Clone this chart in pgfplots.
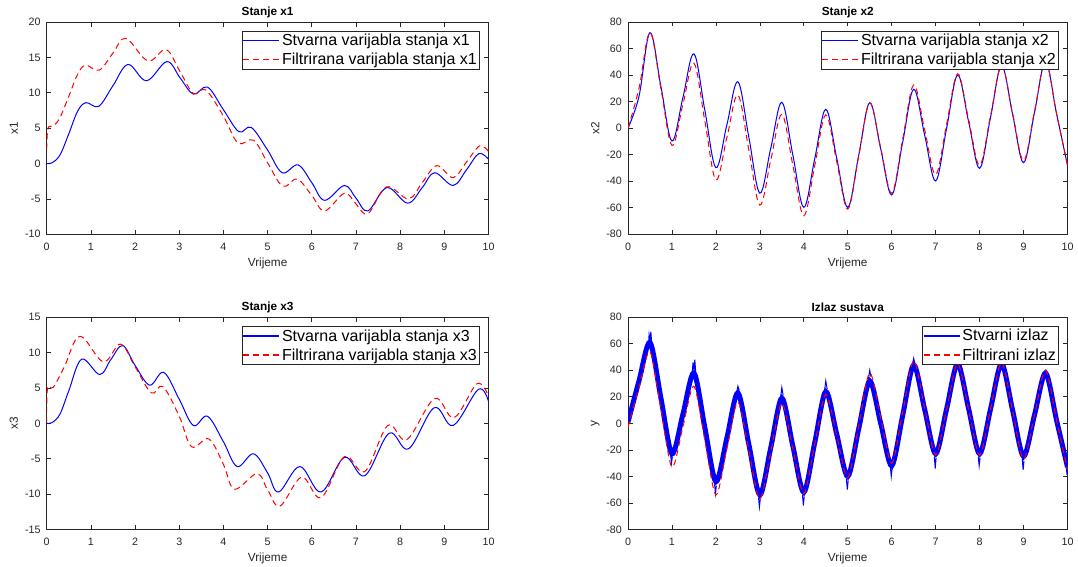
\documentclass[border=0pt]{standalone}
\usepackage{fontspec}
\setmainfont{Liberation Sans}
\usepackage{pgfplots}
\pgfplotsset{compat=1.18}
\definecolor{axgray}{RGB}{38,38,38}
\pgfplotsset{
 mat/.style={
  scale only axis, height=212.3pt,
  xmin=0,xmax=10, xtick={0,1,...,10},
  tick align=inside, tick pos=both, major tick length=4.5pt,
  axis line style={axgray, line width=0.7pt},
  every tick/.style={axgray, line width=0.7pt},
  tick label style={font=\fontsize{10.7}{12}\selectfont, text=axgray},
  /pgf/number format/assume math mode=true,
  yticklabel style={inner sep=0pt, xshift=-6pt, anchor=east},
  xticklabel style={inner sep=0pt, yshift=-8.5pt, anchor=north},
  every axis x label/.style={at={(axis description cs:0.5,-0.1366)}, anchor=center, font=\fontsize{11.8}{13}\selectfont, text=axgray},
  every axis y label/.style={at={(axis description cs:-0.0747,0.5)}, rotate=90, anchor=center, font=\fontsize{11.8}{13}\selectfont, text=axgray},
  every axis title/.style={at={(axis description cs:0.5,1.046)}, anchor=center, font=\bfseries\fontsize{11.8}{13}\selectfont, text=black},
  legend style={at={(1,1)}, anchor=north east, xshift=-8.8pt, yshift=-8.8pt, draw=axgray, line width=0.8pt, fill=white,
    font=\fontsize{16}{19}\selectfont, inner xsep=0.5pt, inner ysep=0pt, row sep=0pt,
    nodes={inner xsep=2pt, inner ysep=3pt}},
  legend cell align=left,
  xlabel={Vrijeme},
  unbounded coords=jump,
 },
 sline/.style={draw=blue, line width=1pt, smooth, tension=0.6,
   legend image code/.code={\draw[draw=blue, line width=1.3pt, solid] (0pt,0pt) -- (36pt,0pt);}},
 fline/.style={draw=red, line width=1pt, smooth, tension=0.6, dash pattern=on 6pt off 4pt,
   legend image code/.code={\draw[draw=red, line width=1.2pt, dash pattern=on 6pt off 4pt] (0pt,0pt) -- (36pt,0pt);}},
}
\begin{document}
\begin{tikzpicture}
\path[use as bounding box] (0pt,0pt) rectangle (1078pt,566pt);
% ---------------- x1
\begin{axis}[mat, width=441.8pt, at={(46.7pt,331.7pt)}, anchor=south west,
  ymin=-10, ymax=20, ytick={-10,-5,...,20}, ylabel={x1}, title={Stanje x1}]
\addplot[sline] coordinates {(0,0) (0.12,0.1) (0.3,1.2) (0.5,4.2) (0.7,7.4) (0.89,8.6) (1.18,8.1) (1.5,11) (1.84,14.0) (2.26,11.7) (2.72,14.4) (3.02,12.1) (3.32,9.8) (3.64,10.8) (4.0,7.6) (4.35,4.5) (4.63,5.1) (5.0,1.9) (5.33,-1.3) (5.69,-0.2) (6.0,-2.7) (6.29,-5.2) (6.74,-3.1) (7.0,-4.9) (7.27,-6.7) (7.70,-3.4) (8.17,-5.6) (8.5,-3.4) (8.78,-1.3) (9.2,-3.1) (9.5,-0.9) (9.78,1.4) (10,0.6)};
\addlegendentry{Stvarna varijabla stanja x1}
\addplot[fline] coordinates {(0,2) (0.03,5) (0.15,5.3) (0.3,6.5) (0.5,9.5) (0.7,12.6) (0.88,13.9) (1.19,13.2) (1.5,15.6) (1.79,17.7) (2.29,14.5) (2.70,16.1) (3.0,13.2) (3.32,9.9) (3.6,10.4) (4.0,6.7) (4.33,2.9) (4.68,3.3) (5.0,0.1) (5.34,-3.2) (5.67,-2.2) (6.0,-4.5) (6.29,-6.7) (6.74,-4.2) (7.0,-5.7) (7.27,-7.1) (7.69,-3.3) (8.19,-5.0) (8.5,-2.7) (8.83,-0.3) (9.2,-2.0) (9.5,0.2) (9.80,2.5) (10,1.7)};
\addlegendentry{Filtrirana varijabla stanja x1}
\end{axis}
% ---------------- x2
\begin{axis}[mat, width=439.5pt, at={(628pt,331.7pt)}, anchor=south west,
  ymin=-80, ymax=80, ytick={-80,-60,...,80}, ylabel={x2}, title={Stanje x2}]
\addplot[sline] coordinates {(0,0) (0.25,24) (0.5,72) (0.75,31.2) (1,-9.7) (1.25,23.2) (1.5,56) (1.75,13.1) (2,-29.8) (2.25,2.6) (2.5,35) (2.75,-7) (3,-49) (3.25,-14.8) (3.5,19.5) (3.75,-20.1) (4,-59.7) (4.25,-22.8) (4.5,14.2) (4.75,-22.8) (5,-59.7) (5.25,-20.3) (5.5,19.2) (5.75,-15.6) (6,-50.3) (6.25,-10.5) (6.5,29.3) (6.75,-5.3) (7,-39.8) (7.25,0.1) (7.5,40) (7.75,4.9) (8,-30.3) (8.25,8.4) (8.5,47) (8.75,10.5) (9,-26) (9.25,12) (9.5,50) (9.75,11) (10,-28)};
\addlegendentry{Stvarna varijabla stanja x2}
\addplot[fline] coordinates {(0,0) (0.25,30) (0.5,72) (0.75,29.5) (1,-13) (1.25,18) (1.5,49) (1.75,5) (2,-39) (2.25,-7) (2.5,25) (2.75,-16.5) (3,-58) (3.25,-23.8) (3.5,10.4) (3.75,-27.8) (4,-66) (4.25,-28) (4.5,10) (4.75,-25.5) (5,-61) (5.25,-21) (5.5,19) (5.75,-15) (6,-49) (6.25,-8.3) (6.5,32.5) (6.75,-1.3) (7,-35) (7.25,3) (7.5,41) (7.75,6.5) (8,-28) (8.25,9.5) (8.5,47) (8.75,11.3) (9,-24.5) (9.25,12.8) (9.5,50) (9.75,11) (10,-28)};
\addlegendentry{Filtrirana varijabla stanja x2}
\end{axis}
% ---------------- x3
\begin{axis}[mat, width=441.8pt, at={(46.7pt,36.5pt)}, anchor=south west,
  ymin=-15, ymax=15, ytick={-15,-10,...,15}, ylabel={x3}, title={Stanje x3}]
\addplot[sline] coordinates {(0,0) (0.12,0.1) (0.3,1.3) (0.5,4.6) (0.79,9.06) (1.2,6.9) (1.45,9) (1.72,11.0) (2.0,8.2) (2.33,5.4) (2.65,7.2) (3.0,3.4) (3.32,-0.3) (3.64,1.0) (4.0,-2.6) (4.31,-6.1) (4.68,-4.3) (5.0,-7.0) (5.25,-9.7) (5.73,-6.1) (6.21,-9.7) (6.74,-4.8) (7.2,-7.4) (7.75,-1.4) (8.19,-3.6) (8.77,2.2) (9.2,-0.3) (9.77,4.8) (10,3.1)};
\addlegendentry{Stvarna varijabla stanja x3}
\addplot[fline] coordinates {(0,0) (0.02,5) (0.15,5.1) (0.4,8) (0.75,12.3) (1.28,8.7) (1.67,11.2) (2.0,8) (2.37,4.3) (2.63,5.2) (3.0,1) (3.28,-3.3) (3.67,-2.2) (4.0,-5.8) (4.25,-9.3) (4.76,-7.1) (5.0,-9.4) (5.28,-11.7) (5.77,-7.6) (6.21,-10.5) (6.74,-4.7) (7.2,-6.8) (7.72,-0.3) (8.15,-2.3) (8.78,3.5) (9.22,0.8) (9.74,5.6) (10,3.8)};
\addlegendentry{Filtrirana varijabla stanja x3}
\end{axis}
% ---------------- y
\begin{axis}[mat, width=439.5pt, at={(628pt,36.5pt)}, anchor=south west,
  ymin=-80, ymax=80, ytick={-80,-60,...,80}, ylabel={y}, title={Izlaz sustava}]
\addplot[draw=blue, line width=5pt, smooth, tension=0.5,
  legend image code/.code={\draw[draw=blue, line width=1.7pt] (0pt,0pt) -- (36pt,0pt);}] coordinates {(0,1) (0.25,32) (0.5,61) (0.75,18.8) (1,-23) (1.25,7) (1.5,38) (1.75,-3.5) (2,-44) (2.25,-11) (2.5,23) (2.75,-16) (3,-54) (3.25,-18) (3.5,19) (3.75,-17) (4,-52) (4.25,-14.3) (4.5,24) (4.75,-8.3) (5,-40) (5.25,-4) (5.5,32) (5.75,0) (6,-32) (6.25,6) (6.5,44) (6.75,10.5) (7,-23) (7.25,11) (7.5,45) (7.75,11) (8,-23) (8.25,11) (8.5,45) (8.75,10) (9,-25) (9.25,6.5) (9.5,38) (9.75,2.5) (10,-33)};
\addlegendentry{Stvarni izlaz}
\addplot[draw=blue, line width=1pt, forget plot] coordinates {(0.46,56) (0.48,67) (0.5,63) (0.52,69) (0.54,60) (0.6,nan) (1.46,38) (1.48,46) (1.5,40) (1.52,48) (1.54,39) (1.6,nan) (2.47,23) (2.5,28) (2.53,25) (2.6,nan) (3.47,19) (3.5,27) (3.53,21) (3.6,nan) (4.47,24) (4.5,32) (4.53,26) (4.6,nan) (5.47,33) (5.5,40) (5.53,35) (5.6,nan) (6.47,44) (6.5,49) (6.53,45)};
\addplot[draw=blue, line width=1pt, forget plot] coordinates {(0.97,-24) (0.99,-30) (1.01,-25) (1.1,nan) (1.97,-46) (1.99,-53) (2.01,-47) (2.1,nan) (2.97,-56) (2.99,-63) (3.01,-57) (3.1,nan) (3.97,-54) (3.99,-62) (4.01,-55) (4.1,nan) (4.97,-42) (4.99,-50) (5.01,-43) (5.1,nan) (5.97,-33) (5.99,-40) (6.01,-34) (6.1,nan) (6.97,-25) (6.99,-34) (7.01,-26) (7.1,nan) (7.97,-25) (7.99,-32) (8.01,-26) (8.1,nan) (8.97,-27) (8.99,-35) (9.01,-28) (9.1,nan) (9.97,-33) (9.99,-39) (10,-34)};
\addplot[draw=red, line width=1pt, smooth, tension=0.5, dash pattern=on 6pt off 4pt,
  legend image code/.code={\draw[draw=red, line width=1.2pt, dash pattern=on 6pt off 4pt] (0pt,0pt) -- (36pt,0pt);}] coordinates {(0,-3) (0.25,27) (0.5,54) (0.75,10.5) (1,-33) (1.25,-2.5) (1.5,28) (1.75,-13) (2,-54) (2.25,-19) (2.5,16) (2.75,-20.5) (3,-57) (3.25,-21) (3.5,15) (3.75,-19) (4,-53) (4.25,-15.5) (4.5,22) (4.75,-9.5) (5,-41) (5.25,-1.5) (5.5,38) (5.75,4) (6,-30) (6.25,8.5) (6.5,47) (6.75,11.5) (7,-24) (7.25,10.5) (7.5,45) (7.75,10.5) (8,-24) (8.25,11) (8.5,46) (8.75,9.5) (9,-27) (9.25,6.5) (9.5,40) (9.75,2.5) (10,-35)};
\addlegendentry{Filtrirani izlaz}
\end{axis}
\end{tikzpicture}
\end{document}
